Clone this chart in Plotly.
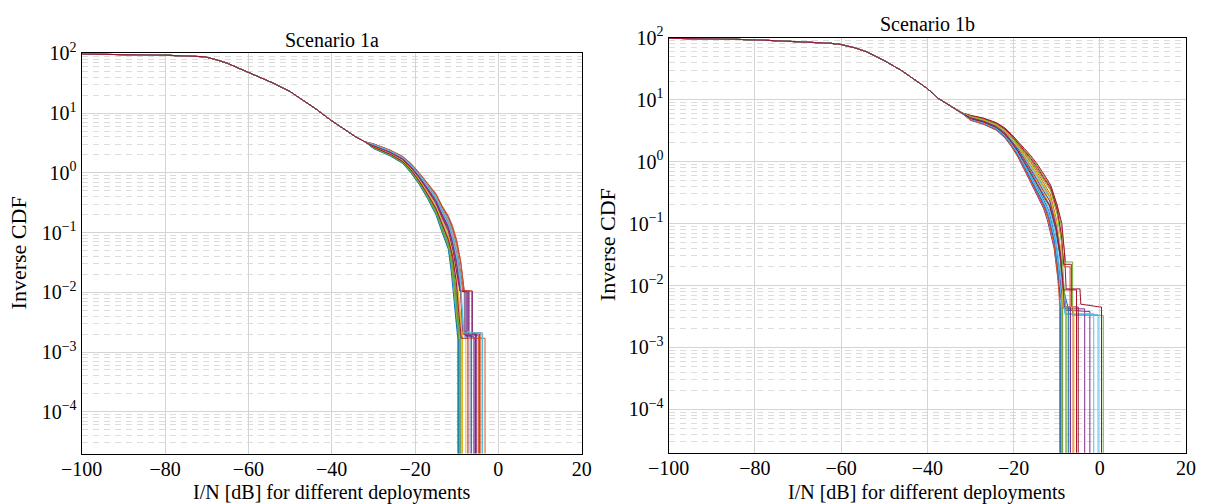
import plotly.graph_objects as go

# ---------------- data ----------------
FLOOR = 1e-6  # stand-in for an inverse CDF of zero (log axis)

# Scenario 1a: common head of all deployments
HEAD_X_1A = [-100, -92, -85, -80, -75, -70.5, -68, -65, -62, -60, -57, -54, -50, -47, -44, -40, -37, -34, -32]
HEAD_Y_1A = [97, 96, 94.5, 93, 90, 87.5, 79, 68, 55, 48, 39, 31.6, 22.9, 16.6, 12, 7.4, 5.4, 3.9, 3.3]

MID_X_1A = [-30, -26, -23, -21, -19, -17, -15, -13.5, -12]
MID_Y_1A = [
    [2.67, 2.03, 1.54, 1.09, 0.71, 0.43, 0.244, 0.132, 0.072],
    [2.96, 2.3, 1.79, 1.34, 0.92, 0.6, 0.385, 0.23, 0.147],
    [2.8, 2.15, 1.65, 1.2, 0.8, 0.5, 0.3, 0.17, 0.1],
    [3.04, 2.38, 1.87, 1.42, 0.98, 0.65, 0.44, 0.27, 0.18],
    [2.58, 1.94, 1.46, 1.02, 0.65, 0.38, 0.21, 0.108, 0.056],
    [2.77, 2.12, 1.63, 1.18, 0.78, 0.485, 0.288, 0.162, 0.094],
    [2.88, 2.23, 1.72, 1.27, 0.86, 0.55, 0.34, 0.198, 0.121],
    [2.62, 1.98, 1.5, 1.06, 0.68, 0.41, 0.224, 0.119, 0.064],
    [3.01, 2.36, 1.84, 1.39, 0.96, 0.64, 0.42, 0.255, 0.167],
    [2.72, 2.08, 1.58, 1.14, 0.75, 0.46, 0.265, 0.146, 0.082],
    [2.9, 2.25, 1.74, 1.29, 0.88, 0.56, 0.354, 0.208, 0.129],
    [2.65, 2.0, 1.52, 1.07, 0.7, 0.42, 0.234, 0.125, 0.068],
    [2.93, 2.28, 1.77, 1.32, 0.9, 0.58, 0.37, 0.22, 0.138],
    [2.83, 2.18, 1.67, 1.22, 0.82, 0.515, 0.313, 0.179, 0.107],
    [2.55, 1.92, 1.44, 1.0, 0.64, 0.37, 0.2, 0.1, 0.052],
    [3.07, 2.41, 1.89, 1.44, 1.01, 0.67, 0.45, 0.28, 0.19],
    [2.75, 2.1, 1.6, 1.16, 0.76, 0.47, 0.276, 0.154, 0.088],
    [2.85, 2.2, 1.7, 1.25, 0.84, 0.53, 0.326, 0.188, 0.114],
    [2.6, 1.96, 1.48, 1.04, 0.67, 0.39, 0.216, 0.113, 0.06],
    [2.99, 2.33, 1.82, 1.36, 0.94, 0.62, 0.4, 0.24, 0.157],
    [2.7, 2.05, 1.56, 1.12, 0.73, 0.44, 0.254, 0.139, 0.077],
]
TAIL_X_1A = [
    [-11, -10.2, -9.6, -9.6],
    [-11, -10.0, -9.2, -8.5, -7.0, -7.0, -4.8, -4.8],
    [-11, -10, -9.3, -8.6, -8.6],
    [-11, -10, -9.0, -8.2, -6.2, -6.2, -4.5, -4.5],
    [-11.2, -10.5, -10.0, -9.4, -9.4],
    [-11, -10, -9.2, -8.2, -8.2, -6.0, -6.0],
    [-11, -9.9, -9.1, -8.5, -5.5, -5.5],
    [-11.1, -10.3, -9.7, -9.0, -9.0],
    [-11, -10, -9.1, -8.3, -7.4, -7.4, -3.2, -3.2],
    [-11, -10.1, -9.4, -8.8, -7.8, -7.8],
    [-11, -9.9, -9.0, -7.2, -7.2, -5.2, -5.2],
    [-11.1, -10.2, -9.5, -9.2, -9.2],
    [-11, -9.9, -9.0, -8.3, -6.8, -6.8],
    [-11, -10, -9.2, -8.0, -8.0, -6.5, -6.5],
    [-11.3, -10.6, -10.1, -9.7, -9.7],
    [-11, -10, -9.0, -8.2, -6.4, -6.4, -4.2, -4.2],
    [-11, -10.1, -9.4, -8.7, -8.7],
    [-11, -9.9, -9.1, -7.7, -7.7, -5.8, -5.8],
    [-11.2, -10.4, -9.8, -9.3, -9.3],
    [-11, -10, -9.1, -8.4, -3.8, -3.8],
    [-11, -10.1, -9.5, -8.9, -7.3, -7.3],
]
TAIL_Y_1A = [
    [0.035, 0.011, 0.0022, FLOOR],
    [0.09, 0.045, 0.02, 0.0105, 0.0105, 0.0019, 0.0019, FLOOR],
    [0.05, 0.02, 0.006, 0.002, FLOOR],
    [0.12, 0.07, 0.03, 0.0105, 0.0105, 0.002, 0.002, FLOOR],
    [0.025, 0.009, 0.003, 0.0015, FLOOR],
    [0.05, 0.02, 0.0103, 0.0103, 0.0018, 0.0018, FLOOR],
    [0.07, 0.03, 0.01, 0.002, 0.002, FLOOR],
    [0.03, 0.011, 0.0035, 0.0017, FLOOR],
    [0.11, 0.06, 0.025, 0.0102, 0.0102, 0.0017, 0.0017, FLOOR],
    [0.042, 0.016, 0.005, 0.0021, 0.0021, FLOOR],
    [0.075, 0.03, 0.0104, 0.0104, 0.002, 0.002, FLOOR],
    [0.032, 0.011, 0.003, 0.0018, FLOOR],
    [0.08, 0.035, 0.01, 0.0022, 0.0022, FLOOR],
    [0.055, 0.022, 0.0105, 0.0105, 0.0019, 0.0019, FLOOR],
    [0.022, 0.008, 0.003, 0.0016, FLOOR],
    [0.13, 0.075, 0.032, 0.0106, 0.0106, 0.0021, 0.0021, FLOOR],
    [0.045, 0.017, 0.005, 0.0019, FLOOR],
    [0.065, 0.025, 0.0104, 0.0104, 0.0018, 0.0018, FLOOR],
    [0.028, 0.01, 0.003, 0.0015, FLOOR],
    [0.1, 0.05, 0.02, 0.0021, 0.0021, FLOOR],
    [0.04, 0.015, 0.0045, 0.0017, 0.0017, FLOOR],
]

# Scenario 1b
HEAD_X_1B = [-100, -92, -85, -78, -72, -66, -62.5, -60, -57, -54, -50, -46, -43, -40, -37.5, -35, -32]
HEAD_Y_1B = [97.7, 96.6, 94.4, 91.2, 88.1, 85.1, 81.3, 77.6, 69.2, 58.9, 42.7, 29.5, 21.4, 15.1, 10.5, 8.2, 6.1]

MID_X_1B = [-30, -27, -24, -22, -20.5, -19, -17.5, -16, -14.5, -13]
MID_Y_1B = [
    [4.87, 4.25, 3.45, 2.65, 1.96, 1.38, 0.9, 0.58, 0.37, 0.24],
    [5.34, 4.77, 3.97, 3.18, 2.47, 1.86, 1.34, 0.97, 0.67, 0.46],
    [5.15, 4.55, 3.75, 2.95, 2.25, 1.65, 1.14, 0.79, 0.53, 0.35],
    [4.74, 4.11, 3.31, 2.5, 1.83, 1.26, 0.8, 0.5, 0.31, 0.197],
    [5.54, 4.99, 4.19, 3.42, 2.71, 2.09, 1.56, 1.18, 0.86, 0.59],
    [5.2, 4.6, 3.8, 3.01, 2.3, 1.7, 1.19, 0.83, 0.56, 0.375],
    [5.59, 5.05, 4.25, 3.49, 2.77, 2.16, 1.63, 1.245, 0.91, 0.63],
    [4.78, 4.15, 3.36, 2.55, 1.87, 1.3, 0.84, 0.53, 0.33, 0.21],
    [5.44, 4.88, 4.07, 3.3, 2.59, 1.97, 1.45, 1.07, 0.76, 0.52],
    [5.05, 4.45, 3.65, 2.85, 2.15, 1.55, 1.06, 0.71, 0.47, 0.31],
    [4.65, 4.01, 3.22, 2.41, 1.75, 1.19, 0.74, 0.45, 0.275, 0.173],
    [5.24, 4.66, 3.86, 3.07, 2.36, 1.75, 1.24, 0.87, 0.6, 0.4],
    [4.91, 4.3, 3.5, 2.7, 2.01, 1.42, 0.94, 0.61, 0.39, 0.255],
    [5.49, 4.93, 4.13, 3.36, 2.64, 2.03, 1.5, 1.125, 0.81, 0.55],
    [5.0, 4.4, 3.6, 2.79, 2.1, 1.51, 1.02, 0.68, 0.44, 0.29],
    [4.7, 4.06, 3.27, 2.46, 1.79, 1.22, 0.77, 0.475, 0.29, 0.185],
    [5.29, 4.71, 3.91, 3.12, 2.41, 1.8, 1.29, 0.92, 0.635, 0.43],
    [5.1, 4.5, 3.7, 2.9, 2.2, 1.6, 1.1, 0.75, 0.5, 0.33],
    [5.39, 4.82, 4.02, 3.24, 2.53, 1.92, 1.39, 1.02, 0.72, 0.49],
    [4.83, 4.2, 3.41, 2.6, 1.92, 1.34, 0.87, 0.55, 0.35, 0.225],
    [4.96, 4.35, 3.55, 2.74, 2.05, 1.46, 0.98, 0.64, 0.42, 0.27],
]
TAIL_X_1B = [
    [-11.8, -10.4, -9.4, -8.7, -8.7],
    [-11.5, -10.1, -9.2, -8.8, -8.8],
    [-11.7, -10.2, -9.2, -8.5, -7.4, -7.4],
    [-12, -10.5, -9.5, -8.8, -8.1, -2.3, -2.3],
    [-11.4, -9.9, -8.9, -8.3, -7.9, -6.3, -6.3, 0.8, 0.8],
    [-11.6, -10.1, -9.1, -8.5, -8.0, -0.4, -0.4],
    [-11.4, -9.9, -8.8, -8.2, -7.8, -4.6, -4.4, 0.0, 0.4, 0.4],
    [-11.9, -10.5, -9.6, -9.1, -9.1],
    [-11.4, -9.9, -8.9, -8.3, -6.9, -6.9, -6.2, -6.2],
    [-11.7, -10.2, -9.2, -8.6, -7.9, -7.9],
    [-12.1, -10.6, -9.6, -9.0, -8.3, -3.5, -3.5],
    [-11.6, -10.1, -9.1, -8.6, -8.6],
    [-11.8, -10.3, -9.3, -8.6, -8.1, -1.4, -1.4],
    [-11.4, -9.9, -8.9, -8.4, -6.6, -6.6, -5.0, -5.0],
    [-11.7, -10.2, -9.2, -8.5, -7.2, -7.2],
    [-12, -10.6, -9.7, -9.3, -9.3],
    [-11.6, -10.1, -9.1, -8.5, -6.0, -6.0],
    [-11.6, -10.1, -9.1, -8.5, -8.2, -6.8, -6.8],
    [-11.4, -9.9, -8.9, -8.4, -7.8, -7.8],
    [-11.9, -10.4, -9.5, -8.9, -8.9],
    [-11.6, -10.1, -9.1, -8.4, -5.4, -5.4],
]
TAIL_Y_1B = [
    [0.16, 0.06, 0.018, 0.005, FLOOR],
    [0.3, 0.12, 0.04, 0.01, FLOOR],
    [0.24, 0.09, 0.03, 0.0045, 0.0045, FLOOR],
    [0.13, 0.05, 0.015, 0.008, 0.004, 0.0038, FLOOR],
    [0.4, 0.19, 0.09, 0.04, 0.024, 0.024, 0.0033, 0.0033, FLOOR],
    [0.26, 0.1, 0.035, 0.009, 0.0034, 0.0034, FLOOR],
    [0.42, 0.2, 0.1, 0.035, 0.0088, 0.0088, 0.005, 0.0045, 0.0045, FLOOR],
    [0.14, 0.05, 0.014, 0.004, FLOOR],
    [0.36, 0.16, 0.06, 0.02, 0.02, 0.004, 0.004, FLOOR],
    [0.21, 0.085, 0.03, 0.007, 0.004, FLOOR],
    [0.11, 0.04, 0.012, 0.006, 0.0042, 0.0042, FLOOR],
    [0.27, 0.105, 0.035, 0.008, FLOOR],
    [0.18, 0.07, 0.022, 0.008, 0.0035, 0.0035, FLOOR],
    [0.38, 0.17, 0.065, 0.022, 0.022, 0.0045, 0.0045, FLOOR],
    [0.2, 0.08, 0.028, 0.009, 0.004, FLOOR],
    [0.12, 0.045, 0.012, 0.005, FLOOR],
    [0.28, 0.11, 0.04, 0.0045, 0.0045, FLOOR],
    [0.23, 0.09, 0.032, 0.0088, 0.0045, 0.0045, FLOOR],
    [0.34, 0.14, 0.05, 0.012, 0.004, FLOOR],
    [0.15, 0.055, 0.017, 0.006, FLOOR],
    [0.19, 0.08, 0.028, 0.0085, 0.0085, FLOOR],
]

COLORS = ["#0072BD", "#D95319", "#EDB120", "#7E2F8E", "#77AC30", "#4DBEEE", "#A2142F"]

X_TICKS = [-100, -80, -60, -40, -20, 0, 20]
X_TICK_TEXT = ["−100", "−80", "−60", "−40", "−20", "0", "20"]
Y_TICKS = [1e-4, 1e-3, 1e-2, 1e-1, 1, 10, 100]
Y_TICK_TEXT = ["10<sup>−4</sup>", "10<sup>−3</sup>", "10<sup>−2</sup>", "10<sup>−1</sup>",
               "10<sup>0</sup>", "10<sup>1</sup>", "10<sup>2</sup>"]
Y_MINOR = [m * 10.0 ** e for e in range(-5, 2) for m in range(2, 10)]

TITLE_1A = "Scenario 1a"
TITLE_1B = "Scenario 1b"
X_LABEL = "I/N [dB] for different deployments"
Y_LABEL = "Inverse CDF"

# ---------------- figure ----------------
W, H = 1205, 504
FONT = "Liberation Serif"
fig = go.Figure()

def add_panel(head_x, head_y, mid_x, mid_y, tail_x, tail_y, xa, ya):
    for i in range(len(mid_y)):
        fig.add_trace(go.Scatter(
            x=head_x + mid_x + tail_x[i],
            y=head_y + mid_y[i] + tail_y[i],
            mode="lines", line=dict(color=COLORS[i % len(COLORS)], width=1),
            xaxis=xa, yaxis=ya, showlegend=False, hoverinfo="skip"))

add_panel(HEAD_X_1A, HEAD_Y_1A, MID_X_1A, MID_Y_1A, TAIL_X_1A, TAIL_Y_1A, "x", "y")
add_panel(HEAD_X_1B, HEAD_Y_1B, MID_X_1B, MID_Y_1B, TAIL_X_1B, TAIL_Y_1B, "x2", "y2")

# pixel boxes of the two plot areas
L1, R1, T1, B1 = 81.7, 581.7, 53.3, 453.5
L2, R2, T2, B2 = 668.7, 1186.0, 37.7, 452.7

def xax(domain, anchor):
    return dict(domain=domain, anchor=anchor, range=[-100, 20], tickmode="array",
                tickvals=X_TICKS, ticktext=X_TICK_TEXT, showgrid=True,
                gridcolor="#d4d4d4", gridwidth=1, zeroline=False, automargin=False,
                showline=True, linecolor="black", linewidth=1.3, mirror=True,
                ticks="", ticklabelstandoff=-3,
                tickfont=dict(family=FONT, size=20, color="black"))

def yax(domain, anchor):
    return dict(domain=domain, anchor=anchor, type="log", range=[-4.699, 2.0],
                tickmode="array", tickvals=Y_TICKS, ticktext=Y_TICK_TEXT,
                showgrid=True, gridcolor="#d4d4d4", gridwidth=1, zeroline=False,
                automargin=False,
                showline=True, linecolor="black", linewidth=1.3, mirror=True,
                ticks="", tickfont=dict(family=FONT, size=20, color="black"),
                minor=dict(tickmode="array", tickvals=Y_MINOR, showgrid=True,
                           gridcolor="#dcdcdc", gridwidth=1, griddash="6px,5px", ticks=""))

fig.update_layout(
    width=W, height=H, margin=dict(l=0, r=0, t=0, b=0, autoexpand=False),
    paper_bgcolor="white", plot_bgcolor="white",
    xaxis=xax([L1 / W, R1 / W], "y"),
    yaxis=yax([1 - B1 / H, 1 - T1 / H], "x"),
    xaxis2=xax([L2 / W, R2 / W], "y2"),
    yaxis2=yax([1 - B2 / H, 1 - T2 / H], "x2"),
    font=dict(family=FONT, color="black"),
)

def ann(text, x, y, size, angle=0):
    fig.add_annotation(text=text, x=x / W, y=1 - y / H, xref="paper", yref="paper",
                       showarrow=False, textangle=angle, xanchor="center", yanchor="middle",
                       font=dict(family=FONT, size=size, color="black"))

ann(TITLE_1A, (L1 + R1) / 2, 40, 20)
ann(TITLE_1B, (L2 + R2) / 2, 24, 20)
ann(X_LABEL, (L1 + R1) / 2, 492, 20)
ann(X_LABEL, (L2 + R2) / 2, 492, 20)
ann(Y_LABEL, 18, (T1 + B1) / 2, 22, -90)
ann(Y_LABEL, 607, (T2 + B2) / 2, 22, -90)

fig.write_html("out.html")
